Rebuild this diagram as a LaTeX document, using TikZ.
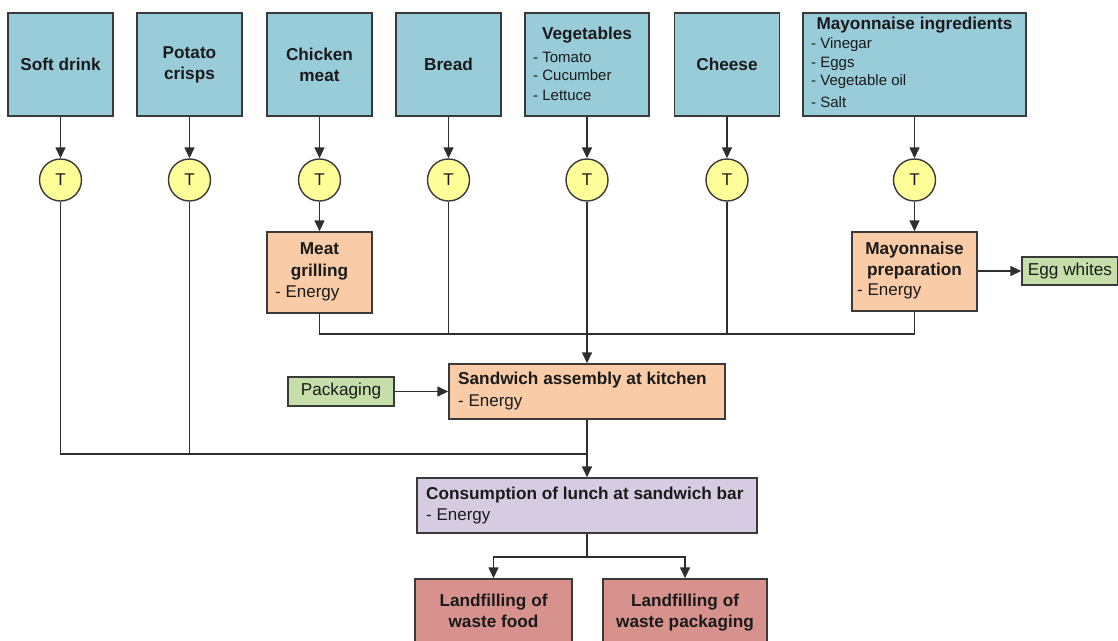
\documentclass[tikz,border=0pt]{standalone}
\usepackage{fontspec}
\setmainfont{Liberation Sans}
\usetikzlibrary{arrows.meta}
\definecolor{boxblue}{HTML}{99CCD9}
\definecolor{peach}{HTML}{F9CBA6}
\definecolor{pgreen}{HTML}{C6DEA9}
\definecolor{lav}{HTML}{D6CCE2}
\definecolor{pred}{HTML}{D8928D}
\definecolor{tyellow}{HTML}{FFFF99}
\definecolor{bordergray}{HTML}{3A3A3A}
\definecolor{linecol}{HTML}{2E2E2E}
\definecolor{textcol}{HTML}{1A1A1A}
\begin{document}
\begin{tikzpicture}[x=1pt,y=-1pt,
  box/.style={draw=bordergray, line width=1.4pt, inner sep=0pt, align=center,
    font=\bfseries\fontsize{17.2}{21}\selectfont, text=textcol},
  bluebox/.style={box, fill=boxblue},
  peachbox/.style={box, fill=peach},
  greenbox/.style={box, fill=pgreen, font=\fontsize{17.2}{20}\selectfont},
  lavbox/.style={box, fill=lav},
  redbox/.style={box, fill=pred},
  tcirc/.style={circle, draw=bordergray, line width=1.4pt, fill=tyellow,
    minimum size=42pt, inner sep=0pt, text=textcol, font=\fontsize{17}{20}\selectfont},
  lbl/.style={inner sep=0pt, text=textcol, align=center, font=\bfseries\fontsize{17.2}{21.5}\selectfont},
  reg/.style={inner sep=0pt, anchor=west, text=textcol, font=\fontsize{17}{20}\selectfont},
  small/.style={inner sep=0pt, anchor=west, text=textcol, font=\fontsize{15}{18}\selectfont},
  conn/.style={draw=linecol, line width=1.4pt},
  arr/.style={conn, -{Triangle[length=11pt,width=10pt]}},
]
\useasboundingbox (0,0) rectangle (1118,640);
\fill[white] (0,0) rectangle (1118,640);
\clip (0,0) rectangle (1118,640);

% top source boxes
\node[bluebox, minimum width=105pt, minimum height=103pt] (soft) at (60.5,64.5) {Soft drink};
\node[bluebox, minimum width=105pt, minimum height=103pt] (crisps) at (189.5,64.5) {Potato\\crisps};
\node[bluebox, minimum width=105pt, minimum height=103pt] (chicken) at (319.5,64.5) {Chicken\\meat};
\node[bluebox, minimum width=105pt, minimum height=103pt] (bread) at (448.5,64.5) {Bread};
\node[bluebox, minimum width=124pt, minimum height=103pt] (veg) at (587,64.5) {};
\node[bluebox, minimum width=105pt, minimum height=103pt] (cheese) at (727,64.5) {Cheese};
\node[bluebox, minimum width=223pt, minimum height=103pt] (mayo) at (914.5,64.5) {};

\node[lbl] (vegt) at (587,35) {Vegetables};
\node[small] (veg1) at (533,57) {- Tomato};
\node[small] (veg2) at (533,75) {- Cucumber};
\node[small] (veg3) at (533,95) {- Lettuce};

\node[lbl] (mayot) at (914.5,25) {Mayonnaise ingredients};
\node[small] (may1) at (811,45) {- Vinegar};
\node[small] (may2) at (811,64) {- Eggs};
\node[small] (may3) at (811,82) {- Vegetable oil};
\node[small] (may4) at (811,102) {- Salt};

% transport circles
\node[tcirc] (c1) at (60.5,180) {T};
\node[tcirc] (c2) at (189.5,180) {T};
\node[tcirc] (c3) at (319.5,180) {T};
\node[tcirc] (c4) at (448.5,180) {T};
\node[tcirc] (c5) at (587,180) {T};
\node[tcirc] (c6) at (727,180) {T};
\node[tcirc] (c7) at (914.5,180) {T};

\foreach \a/\b in {soft/c1,crisps/c2,chicken/c3,bread/c4,veg/c5,cheese/c6,mayo/c7}
  \draw[arr] (\a.south) -- (\b.north);

% processing
\node[peachbox, minimum width=105pt, minimum height=81pt] (grill) at (319.5,272.5) {};
\node[lbl] (grillt) at (319.5,261.5) {Meat\\grilling};
\node[reg] (grille) at (275,293) {- Energy};

\node[peachbox, minimum width=125pt, minimum height=79pt] (mprep) at (914.5,271.5) {};
\node[lbl] (mprept) at (914.5,260.5) {Mayonnaise\\preparation};
\node[reg] (mprepe) at (857,291) {- Energy};

\node[greenbox, minimum width=96pt, minimum height=28pt] (egg) at (1070,271) {Egg whites};

\draw[arr] (c3.south) -- (grill.north);
\draw[arr] (c7.south) -- (mprep.north);
\draw[arr] (mprep.east |- egg.west) -- (egg.west);

\node[peachbox, minimum width=276pt, minimum height=55pt] (sand) at (587,391.5) {};
\node[lbl, anchor=west] (sandt) at (458,380) {Sandwich assembly at kitchen};
\node[reg] (sande) at (458,402) {- Energy};

\node[greenbox, minimum width=106pt, minimum height=29pt] (pack) at (341,391.5) {Packaging};
\draw[arr] (pack.east) -- (sand.west);

\coordinate (jup) at (587,334);
\draw[conn] (grill.south) |- (jup);
\draw[conn] (mprep.south) |- (jup);
\draw[conn] (c4.south) -- (c4.south |- jup);
\draw[conn] (c6.south) -- (c6.south |- jup);
\draw[arr] (c5.south) -- (sand.north);

\node[lavbox, minimum width=340pt, minimum height=55pt] (cons) at (587,505.5) {};
\node[lbl, anchor=west] (const) at (426,495) {Consumption of lunch at sandwich bar};
\node[reg] (conse) at (426,516) {- Energy};

\coordinate (jlow) at (587,454);
\draw[conn] (c1.south) |- (jlow);
\draw[conn] (c2.south) -- (c2.south |- jlow);
\draw[arr] (sand.south) -- (cons.north);

\node[redbox, minimum width=157pt, minimum height=75pt] (lf1) at (493.5,616.5) {};
\node[lbl, text depth=0pt] (lf1t) at (493.5,611) {Landfilling of\\waste food};
\node[redbox, minimum width=164pt, minimum height=75pt] (lf2) at (685,616.5) {};
\node[lbl, text depth=0pt] (lf2t) at (685,611) {Landfilling of\\waste packaging};

\coordinate (jb) at (587,557);
\draw[arr] (cons.south) -- (jb) -| (lf1.north);
\draw[arr] (jb) -| (lf2.north);
\end{tikzpicture}
\end{document}
